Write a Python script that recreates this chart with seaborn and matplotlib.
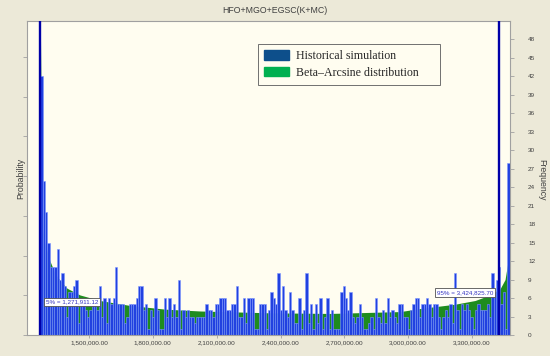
"""
Risk histogram: HFO+MGO+EGSC(K+MC) cost, historical simulation vs fitted
Beta-Arcsine distribution, with the 5% / 95% delimiters.

    python plot.py
"""

import matplotlib

matplotlib.use("Agg")  # headless: save files, never open a window
import matplotlib.pyplot as plt
import numpy as np
import pandas as pd
import seaborn as sns
from matplotlib.patches import Patch
from matplotlib.ticker import FuncFormatter

TITLE = "HFO+MGO+EGSC(K+MC)"

# Histogram of the historical simulation (frequency per bin).
BIN_START = 1_272_000
BIN_WIDTH = 10_918
counts = [
    42, 25, 20, 15, 11, 11, 11, 14, 9, 10, 8, 3, 7, 7, 8, 9, 2, 5, 5, 4, 3, 4, 5, 5, 4, 8, 3, 6, 2, 6, 5,
    6, 11, 5, 5, 5, 2, 3, 5, 5, 5, 6, 8, 8, 4, 5, 1, 4, 3, 6, 4, 1, 1, 6, 3, 6, 3, 5, 3, 9, 1, 4, 3, 4, 3, 3, 2, 3, 3,
    3, 3, 5, 4, 4, 3, 5, 5, 6, 6, 6, 4, 4, 5, 5, 8, 3, 3, 6, 2, 6, 6, 6, 1, 1, 5, 5, 5, 1, 4, 7, 6, 5, 10, 4, 8, 4, 3,
    7, 4, 2, 2, 6, 1, 4, 10, 2, 5, 1, 5, 2, 6, 1, 3, 6, 1, 4, 1, 1, 1, 7, 8, 6, 4, 7, 3, 2, 3, 5, 3, 1, 1, 2, 3,
    1, 6, 3, 2, 4, 2, 6, 3, 4, 3, 2, 5, 5, 3, 3, 1, 4, 5, 6, 6, 3, 5, 5, 6, 5, 3, 5, 5, 3, 1, 3, 4, 3, 5, 2, 10,
    4, 1, 5, 4, 5, 4, 3, 1, 4, 5, 4, 4, 4, 5, 3, 10, 7, 9, 11, 5, 7, 1, 28,
]

# Fitted Beta-Arcsine density in frequency units.
fit_x = [
    1_272_000, 1_277_000, 1_283_800, 1_293_200, 1_316_700, 1_340_200, 1_363_700,
    1_396_600, 1_457_700, 1_551_700, 1_692_700, 1_857_200, 2_021_700, 2_350_700,
    2_632_700, 2_961_700, 3_055_700, 3_220_200, 3_314_200, 3_384_700, 3_431_700,
    3_455_200, 3_469_300, 3_476_400,
]
fit_y = [
    48, 30, 17, 14.8, 12, 10, 8.9,
    7.6, 6.5, 5.6, 4.8, 4.2, 3.9, 3.6,
    3.5, 3.8, 4.3, 5.0, 5.6, 6.5, 7.5,
    9.0, 12, 16,
]

P5 = 1_271_911.12
P95 = 3_424_825.70

x_ticks = [1_500_000, 1_800_000, 2_100_000, 2_400_000, 2_700_000, 3_000_000, 3_300_000]
freq_ticks = list(range(0, 49, 3))

BAR = "#2141e0"
BAR_EDGE = "#7f98ff"
FIT = "#1e8c1e"
DELIM = "#0000a8"
LEG_BLUE = "#0d4f8b"
LEG_GREEN = "#00b050"
FIG_BG = "#ece9d8"
AX_BG = "#fffdf0"
SPINE = "#a0a0a0"
TXT = "#404040"

sns.set_style("white")
plt.rcParams["font.family"] = ["Liberation Sans", "DejaVu Sans"]

XLIM = (1_208_600, 3_478_600)
YLIM = (0, 51)

fig = plt.figure(figsize=(5.5, 3.56), dpi=100, facecolor=FIG_BG)
ax = fig.add_axes([0.0491, 0.0590, 0.8782, 0.8820], facecolor=AX_BG)

bin_end = BIN_START + BIN_WIDTH * len(counts)
hist = pd.DataFrame({
    "cost": [BIN_START + BIN_WIDTH * (i + 0.5) for i in range(len(counts))],
    "freq": counts,
})

ax.fill_between(fit_x, fit_y, color=FIT, lw=0, zorder=1)
sns.histplot(
    data=hist, x="cost", weights="freq",
    binwidth=BIN_WIDTH, binrange=(BIN_START, bin_end), ax=ax,
    color=BAR, edgecolor=BAR_EDGE, linewidth=0.4, alpha=1, zorder=2,
)
for p in (P5, P95):
    ax.axvline(p, color=DELIM, lw=1.7, zorder=4)

box = dict(boxstyle="square,pad=0.25", fc="white", ec="#505050", lw=0.6)
ax.text(1_297_900, 5.4, "5% = 1,271,911.12", fontsize=4.5, color="#3535c0",
        ha="left", va="center", bbox=box, zorder=5)
ax.text(3_398_800, 6.9, "95% = 3,424,825.70", fontsize=4.5, color="#3535c0",
        ha="right", va="center", bbox=box, zorder=5)

ax.set_xlim(*XLIM)
ax.set_ylim(*YLIM)
ax.set_xticks(x_ticks)
ax.xaxis.set_major_formatter(FuncFormatter(lambda v, _: f"{v:,.2f}"))
ax.set_yticks(np.arange(0, 51, 6.45))
ax.set_yticklabels([])
ax.tick_params(axis="x", bottom=True, length=2, width=0.6, color=SPINE, labelsize=4.6, labelcolor=TXT, pad=2)
ax.tick_params(axis="y", left=True, length=3, width=0.6, color=SPINE)
ax.set_xlabel("")
ax.set_ylabel("Probability", fontsize=6.3, color=TXT, labelpad=-5)
for s in ax.spines.values():
    s.set_color(SPINE)
    s.set_linewidth(0.8)

ax2 = ax.twinx()
ax2.set_ylim(*YLIM)
ax2.set_yticks(freq_ticks)
ax2.tick_params(axis="y", right=True, length=3, width=0.6, color=SPINE,
                labelsize=4.6, labelcolor=TXT, pad=10)
ax2.set_ylabel("")
for s in ax2.spines.values():
    s.set_visible(False)
fig.text(0.985, 0.494, "Frequency", rotation=270, ha="center", va="center",
         fontsize=6.3, color=TXT)

handles = [
    Patch(facecolor=LEG_BLUE, edgecolor=LEG_BLUE),
    Patch(facecolor=LEG_GREEN, edgecolor=LEG_GREEN),
]
leg = ax.legend(
    handles, ["Historical simulation", "Beta\u2013Arcsine distribution"],
    loc="upper left", bbox_to_anchor=(0.478, 0.927, 0.377, 0.0), mode="expand",
    prop={"family": ["Liberation Serif", "DejaVu Serif"], "size": 8.6},
    frameon=True, fancybox=False, framealpha=1, facecolor=AX_BG, edgecolor="#707070",
    borderpad=0.5, handlelength=2.1, handleheight=0.85, handletextpad=0.6,
    labelspacing=0.4, borderaxespad=0,
)
leg.get_frame().set_linewidth(0.7)
leg.set_zorder(6)

fig.text(0.5, 0.97, TITLE, ha="center", va="center", fontsize=6.3, color=TXT)

fig.savefig("out.png", dpi=100, facecolor=FIG_BG)
